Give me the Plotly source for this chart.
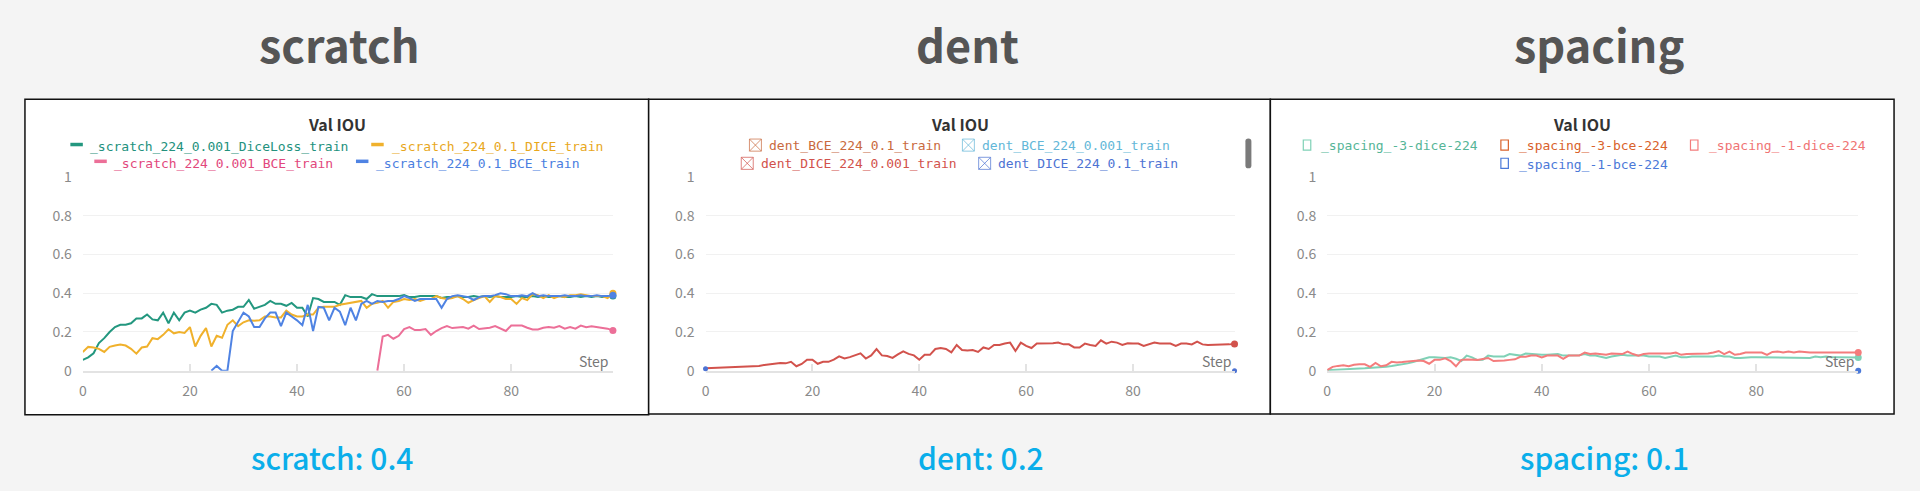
import plotly.graph_objects as go

W, H = 1920, 491

# ---------------- data ----------------
steps = list(range(100))

scratch_names = ["_scratch_224_0.001_DiceLoss_train", "_scratch_224_0.1_DICE_train",
                 "_scratch_224_0.001_BCE_train", "_scratch_224_0.1_BCE_train"]
scratch_dice_0001 = [
    0.056, 0.069, 0.09, 0.143, 0.168, 0.20, 0.225, 0.237, 0.237, 0.245,
    0.27, 0.27, 0.29, 0.265, 0.26, 0.30, 0.245, 0.30, 0.26, 0.30,
    0.31, 0.30, 0.315, 0.325, 0.345, 0.34, 0.30, 0.31, 0.315, 0.33,
    0.33, 0.365, 0.32, 0.33, 0.34, 0.36, 0.345, 0.345, 0.335, 0.35,
    0.325, 0.325, 0.28, 0.375, 0.37, 0.355, 0.355, 0.355, 0.34, 0.39,
    0.38, 0.38, 0.38, 0.37, 0.395, 0.385, 0.385, 0.385, 0.385, 0.385,
    0.39, 0.38, 0.38, 0.385, 0.385, 0.385, 0.385, 0.375, 0.38, 0.38,
    0.385, 0.38, 0.38, 0.385, 0.38, 0.385, 0.38, 0.385, 0.38, 0.38,
    0.38, 0.385, 0.38, 0.38, 0.385, 0.38, 0.385, 0.38, 0.38, 0.385,
    0.38, 0.38, 0.385, 0.38, 0.385, 0.38, 0.385, 0.38, 0.385, 0.385]
scratch_dice_01 = [
    0.097, 0.123, 0.12, 0.113, 0.097, 0.123, 0.13, 0.135, 0.13, 0.113,
    0.088, 0.12, 0.125, 0.168, 0.163, 0.185, 0.214, 0.193, 0.20, 0.195,
    0.225, 0.125, 0.18, 0.22, 0.125, 0.18, 0.17, 0.237, 0.26, 0.23,
    0.25, 0.26, 0.258, 0.26, 0.28, 0.28, 0.275, 0.275, 0.31, 0.29,
    0.28, 0.28, 0.29, 0.29, 0.325, 0.33, 0.33, 0.33, 0.34, 0.345,
    0.35, 0.355, 0.36, 0.325, 0.345, 0.35, 0.36, 0.325, 0.355, 0.36,
    0.37, 0.365, 0.37, 0.36, 0.37, 0.37, 0.385, 0.375, 0.37, 0.375,
    0.385, 0.37, 0.35, 0.365, 0.375, 0.385, 0.355, 0.385, 0.38, 0.37,
    0.37, 0.345, 0.375, 0.365, 0.395, 0.39, 0.375, 0.39, 0.375, 0.385,
    0.38, 0.39, 0.39, 0.395, 0.39, 0.385, 0.385, 0.385, 0.375, 0.40]
scratch_bce_0001 = [None] * 55 + [
    0.0, 0.176, 0.185, 0.165, 0.18, 0.215, 0.225, 0.21, 0.21, 0.215,
    0.185, 0.205, 0.22, 0.23, 0.22, 0.222, 0.225, 0.217, 0.233, 0.215,
    0.217, 0.222, 0.23, 0.217, 0.205, 0.233, 0.233, 0.233, 0.222, 0.213,
    0.213, 0.222, 0.225, 0.222, 0.23, 0.217, 0.225, 0.217, 0.233, 0.225,
    0.23, 0.225, 0.222, 0.217, 0.207]
scratch_bce_01 = [None] * 24 + [
    0.0, 0.025, 0.0, 0.0, 0.205, 0.25, 0.30, 0.28, 0.225, 0.225,
    0.27, 0.30, 0.30, 0.23, 0.30, 0.28, 0.26, 0.235, 0.34, 0.205,
    0.33, 0.325, 0.26, 0.325, 0.305, 0.235, 0.325, 0.26, 0.345, 0.36,
    0.345, 0.36, 0.355, 0.36, 0.36, 0.37, 0.385, 0.375, 0.36, 0.37,
    0.37, 0.37, 0.37, 0.325, 0.37, 0.385, 0.39, 0.385, 0.38, 0.365,
    0.38, 0.385, 0.385, 0.39, 0.40, 0.395, 0.385, 0.385, 0.39, 0.385,
    0.40, 0.385, 0.39, 0.385, 0.385, 0.385, 0.39, 0.385, 0.385, 0.39,
    0.385, 0.385, 0.39, 0.385, 0.385, 0.39]

dent_names = ["dent_BCE_224_0.1_train", "dent_BCE_224_0.001_train",
              "dent_DICE_224_0.001_train", "dent_DICE_224_0.1_train"]
dent_dice_0001 = [
    0.013, 0.014, 0.015, 0.016, 0.017, 0.018, 0.02, 0.023, 0.024, 0.023,
    0.025, 0.03, 0.033, 0.035, 0.04, 0.038, 0.046, 0.023, 0.035, 0.057,
    0.057, 0.036, 0.046, 0.046, 0.057, 0.074, 0.063, 0.07, 0.079, 0.09,
    0.063, 0.079, 0.112, 0.079, 0.076, 0.066, 0.084, 0.10, 0.087, 0.079,
    0.057, 0.082, 0.082, 0.112, 0.117, 0.112, 0.095, 0.133, 0.107, 0.104,
    0.107, 0.097, 0.12, 0.112, 0.133, 0.133, 0.14, 0.145, 0.102, 0.145,
    0.128, 0.117, 0.14, 0.14, 0.14, 0.142, 0.145, 0.136, 0.136, 0.12,
    0.12, 0.14, 0.133, 0.128, 0.157, 0.14, 0.15, 0.145, 0.133, 0.142,
    0.14, 0.14, 0.128, 0.136, 0.145, 0.14, 0.14, 0.14, 0.128, 0.14,
    0.14, 0.136, 0.15, 0.136, 0.133, 0.133, 0.136, 0.133, 0.136, 0.138]
dent_dice_01_steps = [0, 99]
dent_dice_01 = [0.01, 0.0]

spacing_names = ["_spacing_-3-dice-224", "_spacing_-3-bce-224",
                 "_spacing_-1-dice-224", "_spacing_-1-bce-224"]
spacing_m3_dice = [
    0.003, 0.005, 0.007, 0.008, 0.01, 0.011, 0.012, 0.013, 0.014, 0.016,
    0.018, 0.02, 0.024, 0.028, 0.032, 0.038, 0.045, 0.052, 0.062, 0.069,
    0.069, 0.066, 0.066, 0.069, 0.062, 0.05, 0.078, 0.069, 0.055, 0.056,
    0.078, 0.074, 0.074, 0.074, 0.086, 0.083, 0.078, 0.089, 0.086, 0.083,
    0.083, 0.083, 0.086, 0.086, 0.078, 0.078, 0.078, 0.08, 0.086, 0.078,
    0.078, 0.073, 0.066, 0.073, 0.078, 0.082, 0.078, 0.078, 0.078, 0.078,
    0.073, 0.073, 0.073, 0.066, 0.073, 0.078, 0.069, 0.069, 0.073, 0.073,
    0.073, 0.073, 0.073, 0.078, 0.073, 0.073, 0.066, 0.066, 0.069, 0.069,
    0.069, 0.069, 0.069, 0.069, 0.069, 0.069, 0.069, 0.069, 0.069, 0.069,
    0.066, 0.073, 0.069, 0.073, 0.069, 0.069, 0.069, 0.069, 0.069, 0.068]
spacing_m1_dice = [
    0.003, 0.02, 0.025, 0.028, 0.023, 0.031, 0.033, 0.033, 0.02, 0.04,
    0.023, 0.028, 0.046, 0.043, 0.045, 0.048, 0.05, 0.053, 0.05, 0.036,
    0.056, 0.056, 0.064, 0.05, 0.023, 0.056, 0.058, 0.056, 0.056, 0.061,
    0.066, 0.05, 0.05, 0.053, 0.056, 0.059, 0.072, 0.072, 0.078, 0.078,
    0.069, 0.078, 0.078, 0.078, 0.061, 0.078, 0.078, 0.078, 0.094, 0.086,
    0.089, 0.086, 0.082, 0.089, 0.089, 0.086, 0.099, 0.086, 0.078, 0.086,
    0.089, 0.089, 0.086, 0.086, 0.089, 0.094, 0.082, 0.086, 0.086, 0.086,
    0.089, 0.089, 0.094, 0.102, 0.086, 0.099, 0.082, 0.086, 0.094, 0.094,
    0.094, 0.094, 0.082, 0.097, 0.099, 0.094, 0.099, 0.094, 0.099, 0.096,
    0.094, 0.094, 0.094, 0.094, 0.097, 0.094, 0.094, 0.094, 0.094, 0.094]
spacing_m1_bce_steps = [99]
spacing_m1_bce = [0.0]

panel_titles = ["scratch", "dent", "spacing"]
panel_scores = ["scratch: 0.4", "dent: 0.2", "spacing: 0.1"]
y_ticks = [0, 0.2, 0.4, 0.6, 0.8, 1]
y_ticktext = ["0", "0.2", "0.4", "0.6", "0.8", "1"]
x_ticks = [0, 20, 40, 60, 80]

# ---------------- styling ----------------
C_SCR = ["#23977f", "#f0b12c", "#ec6f98", "#4f83e3"]
C_SCR_TXT = ["#23917d", "#e8a71c", "#e2477c", "#4a7ee0"]
C_DENT = ["#c96a3e", "#63b7d8", "#d2524c", "#4d73d3"]
C_SPC = ["#7fd1b6", "#d9622b", "#f47c7c", "#4b79d8"]
C_SPC_TXT = ["#55b597", "#d9622b", "#f07474", "#4b79d8"]

MONO = "DejaVu Sans Mono"
SANS = "Noto Sans CJK KR"


def px(x):
    return x / W


def py(y):
    return 1 - y / H


Y0, Y1 = 375.0, 173.0
panels = [
    dict(left=21, right=646, top=92, bottom=421, x0=79.0, x99=610.2, tcx=336, scx=329, step_x=591),
    dict(left=646, right=1269, top=92, bottom=420, x0=703.0, x99=1233.1, tcx=966, scx=979, step_x=1215),
    dict(left=1269, right=1894, top=92, bottom=420, x0=1326.0, x99=1858.1, tcx=1598, scx=1604, step_x=1839),
]

fig = go.Figure()


def add_line(i, x, y, color, width=2.0):
    ax = "" if i == 0 else str(i + 1)
    fig.add_trace(go.Scatter(x=x, y=y, mode="lines", line=dict(color=color, width=width),
                             xaxis="x" + ax, yaxis="y" + ax, showlegend=False,
                             connectgaps=False, hoverinfo="skip"))
    xs = [xv for xv, yv in zip(x, y) if yv is not None]
    ys = [yv for yv in y if yv is not None]
    fig.add_trace(go.Scatter(x=xs[-1:], y=ys[-1:], mode="markers",
                             marker=dict(color=color, size=7), cliponaxis=False,
                             xaxis="x" + ax, yaxis="y" + ax, showlegend=False, hoverinfo="skip"))


def add_markers(i, x, y, color, size=6):
    ax = "" if i == 0 else str(i + 1)
    fig.add_trace(go.Scatter(x=x, y=y, mode="markers", marker=dict(color=color, size=size),
                             cliponaxis=False, xaxis="x" + ax, yaxis="y" + ax,
                             showlegend=False, hoverinfo="skip"))


# scratch
add_line(0, steps, scratch_dice_0001, C_SCR[0])
add_line(0, steps, scratch_bce_0001, C_SCR[2])
add_line(0, steps, scratch_dice_01, C_SCR[1])
add_line(0, steps, scratch_bce_01, C_SCR[3])
# dent
add_line(1, steps, dent_dice_0001, C_DENT[2])
add_markers(1, dent_dice_01_steps, dent_dice_01, C_DENT[3], 5)
# spacing
add_line(2, steps, spacing_m3_dice, C_SPC[0])
add_line(2, steps, spacing_m1_dice, C_SPC[2])
add_markers(2, spacing_m1_bce_steps, spacing_m1_bce, C_SPC[3], 6)

shapes = []
annotations = []
layout_axes = {}

for i, p in enumerate(panels):
    ax = "" if i == 0 else str(i + 1)
    xkey = "xaxis" + ax
    ykey = "yaxis" + ax
    layout_axes[xkey] = dict(
        domain=[px(p["x0"]), px(p["x99"])], range=[0, 99], anchor="y" + ax,
        tickvals=x_ticks, showgrid=False, zeroline=False,
        showline=True, linecolor="#e3e3e3", linewidth=2,
        ticks="inside", ticklen=7, tickwidth=1.5, tickcolor="#e3e3e3",
        tickfont=dict(family=SANS, size=14, color="#8a8a8a"), ticklabelstandoff=6,
        fixedrange=True,
    )
    layout_axes[ykey] = dict(
        domain=[py(Y0), py(Y1)], range=[0, 1], anchor="x" + ax,
        tickvals=y_ticks, ticktext=y_ticktext, showgrid=True, gridcolor="#f1f1f1",
        gridwidth=1, zeroline=False, showline=False, ticks="",
        tickfont=dict(family=SANS, size=14, color="#8a8a8a"), ticklabelstandoff=10,
        fixedrange=True,
    )
    shapes.append(dict(type="rect", xref="paper", yref="paper",
                       x0=px(p["left"]), x1=px(p["right"]), y0=py(p["bottom"]), y1=py(p["top"]),
                       fillcolor="white", line=dict(color="#111111", width=1.5), layer="below"))
    annotations.append(dict(text=panel_titles[i], x=px(p["tcx"]), y=py(34), xref="paper", yref="paper",
                            xanchor="center", yanchor="middle", showarrow=False,
                            font=dict(family=SANS, size=45, color="#555555", weight="bold")))
    annotations.append(dict(text=panel_scores[i], x=px(p["scx"]), y=py(465), xref="paper", yref="paper",
                            xanchor="center", yanchor="middle", showarrow=False,
                            font=dict(family=SANS, size=30, color="#0aaeea", weight=500)))
    annotations.append(dict(text="Val IOU", x=px((p["left"] + p["right"]) / 2), y=py(118),
                            xref="paper", yref="paper", xanchor="center", yanchor="middle",
                            showarrow=False, font=dict(family=SANS, size=16, color="#333333", weight="bold")))
    annotations.append(dict(text="Step", x=px(p["step_x"]), y=py(365), xref="paper", yref="paper",
                            xanchor="center", yanchor="middle", showarrow=False,
                            font=dict(family=SANS, size=14, color="#777777")))


def legend_text(x, y, label, color):
    annotations.append(dict(text=label, x=px(x - 1.5), y=py(y), xref="paper", yref="paper",
                            xanchor="left", yanchor="middle", showarrow=False,
                            font=dict(family=MONO, size=13, color=color)))


scr_leg = [(141, 66.5, 86, 0), (141, 368, 388, 1), (158.5, 90.5, 110, 2), (158.5, 352.7, 372.5, 3)]
for y, sx, tx, k in scr_leg:
    shapes.append(dict(type="line", xref="paper", yref="paper", x0=px(sx), x1=px(sx + 12.5),
                       y0=py(y - 1.8), y1=py(y - 1.8), line=dict(color=C_SCR[k], width=3.5)))
    legend_text(tx, y, scratch_names[k], C_SCR_TXT[k])

dent_leg = [(140.3, 747, 765.7, 0), (140.3, 960.4, 980, 1), (159.3, 738.8, 758.4, 2), (159.3, 976.7, 996, 3)]
for y, sx, tx, k in dent_leg:
    bx0, bx1, by0, by1 = sx, sx + 12, y - 6.8, y + 5.8
    col = C_DENT[k]
    shapes.append(dict(type="rect", xref="paper", yref="paper", x0=px(bx0), x1=px(bx1),
                       y0=py(by1), y1=py(by0), line=dict(color=col, width=1), opacity=0.7))
    shapes.append(dict(type="line", xref="paper", yref="paper", x0=px(bx0), x1=px(bx1),
                       y0=py(by0), y1=py(by1), line=dict(color=col, width=1), opacity=0.7))
    shapes.append(dict(type="line", xref="paper", yref="paper", x0=px(bx0), x1=px(bx1),
                       y0=py(by1), y1=py(by0), line=dict(color=col, width=1), opacity=0.7))
    legend_text(tx, y, dent_names[k], col)

spc_leg = [(140.5, 1302, 1319, 0), (140.5, 1500, 1517.6, 1), (140.5, 1690, 1708, 2), (159.5, 1500, 1517.6, 3)]
for y, sx, tx, k in spc_leg:
    shapes.append(dict(type="rect", xref="paper", yref="paper", x0=px(sx), x1=px(sx + 7.5),
                       y0=py(y + 4.5), y1=py(y - 6), line=dict(color=C_SPC[k], width=1.2)))
    legend_text(tx, y, spacing_names[k], C_SPC_TXT[k])

sx0, sx1, sy0, sy1, r = 1244.0, 1250.0, 133.0, 164.0, 3.0
path = (f"M {px(sx0)},{py(sy0 + r)} Q {px(sx0)},{py(sy0)} {px(sx0 + r)},{py(sy0)} "
        f"Q {px(sx1)},{py(sy0)} {px(sx1)},{py(sy0 + r)} L {px(sx1)},{py(sy1 - r)} "
        f"Q {px(sx1)},{py(sy1)} {px(sx0 + r)},{py(sy1)} Q {px(sx0)},{py(sy1)} {px(sx0)},{py(sy1 - r)} Z")
shapes.append(dict(type="path", xref="paper", yref="paper", path=path,
                   fillcolor="#7a7a7a", line=dict(width=0)))

fig.update_layout(
    width=W, height=H, margin=dict(l=0, r=0, t=0, b=0),
    paper_bgcolor="#f4f4f4", plot_bgcolor="rgba(0,0,0,0)",
    showlegend=False, shapes=shapes, annotations=annotations,
    **layout_axes,
)

fig.write_html("out.html", config={"displayModeBar": False},
               post_script="document.body.style.margin='0';document.body.style.overflow='hidden';")
